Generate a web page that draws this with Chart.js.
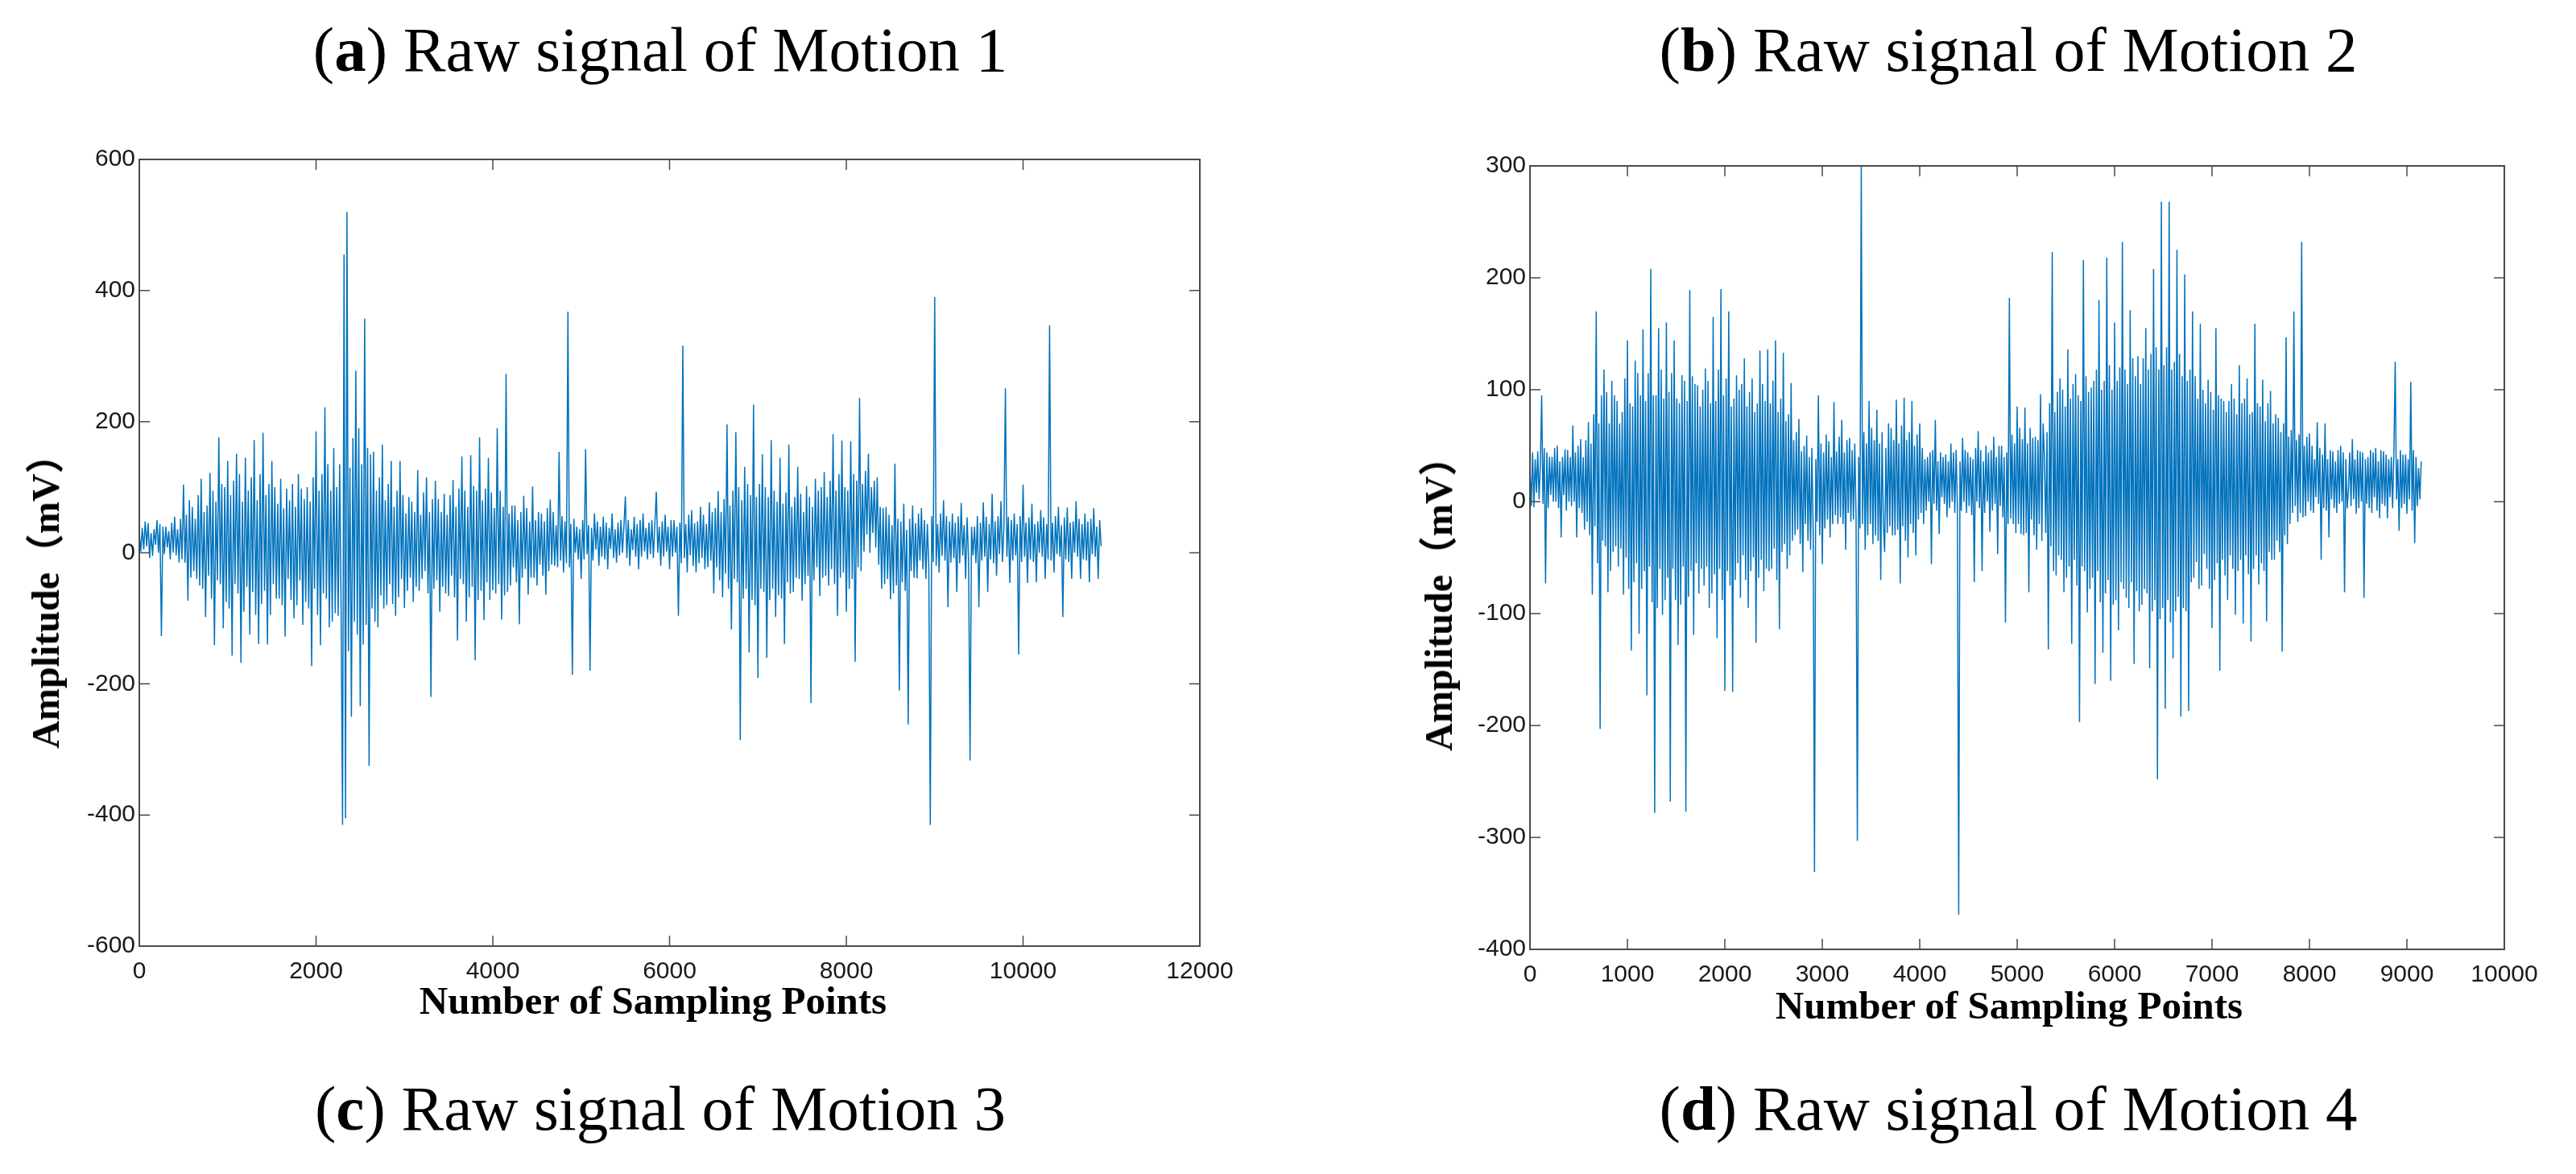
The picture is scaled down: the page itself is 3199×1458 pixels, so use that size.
<!DOCTYPE html>
<html>
<head>
<meta charset="utf-8">
<title>Raw signal of Motion</title>
<script src="https://cdn.jsdelivr.net/npm/chart.js@4.4.1/dist/chart.umd.min.js"></script>
<style>
    html, body { margin: 0; padding: 0; background: #fff; }
    #page { position: relative; width: 3199px; height: 1458px; overflow: hidden; background: #fff; }
    canvas { position: absolute; top: 0; }
    .caption {
        position: absolute; font-family: "Liberation Serif", "Times New Roman", serif;
        font-size: 79px; line-height: 1; white-space: nowrap; color: #000;
        transform: translateX(-50%);
    }
    .xlab {
        position: absolute; font-family: "Liberation Serif", "Times New Roman", serif;
        font-weight: bold; font-size: 49px; line-height: 1; white-space: nowrap; color: #000;
        transform: translateX(-50%);
    }
    .ylab {
        position: absolute; font-family: "Liberation Serif", "Times New Roman", "Noto Sans CJK SC", serif;
        font-weight: bold; font-size: 48px; line-height: 1; white-space: nowrap; color: #000;
        transform: translate(-50%, -50%) rotate(-90deg);
    }
</style>
</head>
<body>
<div id="page">
    <canvas id="chartMotion1" width="1600" height="1300" style="left:0;width:1600px;height:1300px"></canvas>
    <canvas id="chartMotion2" width="1599" height="1300" style="left:1600px;width:1599px;height:1300px"></canvas>

    <div class="caption" style="left:820px;top:22px">(<b>a</b>) Raw signal of Motion 1</div>
    <div class="caption" style="left:2494px;top:22px">(<b>b</b>) Raw signal of Motion 2</div>
    <div class="caption" style="left:820px;top:1337px">(<b>c</b>) Raw signal of Motion 3</div>
    <div class="caption" style="left:2494px;top:1337px">(<b>d</b>) Raw signal of Motion 4</div>

    <div class="xlab" style="left:811px;top:1218px">Number of Sampling Points</div>
    <div class="xlab" style="left:2495px;top:1224px">Number of Sampling Points</div>
    <div class="ylab" style="left:57px;top:735px">Amplitude（mV）</div>
    <div class="ylab" style="left:1787px;top:738px">Amplitude（mV）</div>
</div>

<script>
// Motion 1: readings every 50/3 samples (peak, then two core swings)
const motion1Step = 50 / 3;
const motion1Amplitude = [
    30,2,38, 5,48,10, 45,-8,30, -5,36,12, 50,0,44, -127,40,-2, 40,8,33, -10,46,0, 55,-4,36, -15,52,-10,
    104,-15,58, -73,80,-38, 70,-28,52, -40,88,-50, 113,-55,62, -98,72,-35, 122,-70,95, -141,78,-42, 176,-48,105, -115,100,-75,
    140,-85,88, -157,110,-48, 151,-62,120, -168,78,-90, 145,-52,95, -125,115,-60, 172,-95,80, -139,120,-78, 183,-58,88, -140,105,-95,
    140,-48,100, -70,75,-70, 113,-80,68, -128,98,-40, 80,-72,105, -100,70,-80, 120,-42,98, -110,82,-75, 100,-85,78, -173,115,-55,
    185,-95,95, -141,120,-62, 222,-70,135, -114,95,-105, 160,-92,100, -96,135,-85, -415,455,-405, 520,-150,130, -250,175,-105, 278,-125,190,
    -234,135,-140, 357,-110,160, -325,150,-85, 154,-105,95, -114,115,-65, 165,-85,80, -80,105,-48, 140,-78,70, -96,95,-68, 140,-40,88,
    -84,60,-58, 85,-38,78, -75,62,-52, 126,-58,58, -40,92,-28, 115,-62,62, -220,82,-55, 110,-42,82, -90,62,-52, 90,-62,58,
    -66,88,-35, 111,-68,70, -134,98,-40, 147,-48,95, -105,70,-68, 149,-52,102, -164,95,-72, 176,-58,80, -103,98,-45, 145,-72,92,
    -57,68,-62, 190,-48,95, -102,70,-65, 273,-60,60, -50,72,-22, 72,-45,50, -109,62,-38, 87,-25,68, -64,48,-38, 101,-38,50,
    -50,62,-18, 60,-35,48, -64,68,-28, 81,-18,62, -20,42,-22, 154,-12,56, -30,48,-16, 368,-22,44, -186,52,0, 40,-10,36,
    -40,50,-10, 158,-2,42, -180,38,-12, 60,5,48, -20,40,-6, 55,-10,46, -25,38,6, 60,-8,36, -15,46,-4, 50,0,40,
    86,-8,50, -20,36,4, 55,-6,44, -25,50,-6, 60,2,38, -10,46,-2, 50,-8,44, 93,0,40, -20,48,-6, 58,2,40,
    -25,50,-6, 50,0,40, -96,46,-16, 316,-8,44, -30,58,-4, 65,-20,45, -30,48,-16, 70,-8,58, -25,44,-22, 77,-12,62,
    -62,68,-22, 94,-42,62, -68,82,-32, 196,-55,72, -117,95,-40, 184,-45,100, -286,80,-70, 131,-55,105, -152,88,-72, 226,-80,85,
    -191,105,-55, 150,-60,100, -160,85,-72, 172,-55,95, -98,78,-65, 145,-70,75, -139,92,-45, 165,-62,70, -60,85,-38, 131,-40,90,
    -73,62,-48, 102,-35,85, -229,70,-42, 113,-22,95, -66,100,-38, 123,-35,85, -50,110,-25, 181,-48,95, -96,120,-38, 171,-30,100,
    -90,95,-55, 170,-40,120, -166,110,-22, 236,-28,105, 2,125,28, 151,0,100, 30,110,8, 115,-18,70, -55,68,-48, 70,-40,58,
    -71,42,-62, 136,-50,52, -210,48,-45, 75,-58,35, -262,52,-28, 72,-38,45, -39,60,-12, 68,-25,50, -40,44,-20, -415,56,-14,
    390,-20,44, -30,60,-5, 80,-12,56, -83,48,-15, 60,-8,46, -60,56,-16, 76,-4,42, -40,54,-10, -317,40,-4, 40,-16,56,
    -83,46,-12, 77,-6,55, -60,44,-10, 90,-16,48, -35,56,-2, 79,-14,40, 251,-6,55, -46,50,-12, 60,-4,44, -155,56,-14,
    104,-6,46, -46,54,-10, 75,-14,44, -45,48,0, 65,-6,54, -40,44,-10, 347,-12,46, -30,56,-2, 70,-6,42, -98,54,-10,
    69,-14,46, -40,48,0, 79,-6,52, -40,44,-10, 60,-12,48, -45,52,-2, 68,-6,40, -40,50,10
];
const motion1XTicks = [0, 2000, 4000, 6000, 8000, 10000, 12000];
const motion1YTicks = [-600, -400, -200, 0, 200, 400, 600];

// Motion 2: readings every 40/3 samples
const motion2Step = 40 / 3;
const motion2Amplitude = [
    30,-4,44, -5,38,8, 45,2,34, 95,-2,48, -73,44,-6, 40,6,40, 0,48,0, 50,-6,36, -32,40,6, 47,-8,46,
    0,40,-4, 68,0,44, -32,50,-6, 56,-10,40, -25,55,-18, 71,-30,52, -83,78,-22, 170,-55,70, -203,95,-35, 118,-40,98,
    -81,70,-62, 108,-45,95, -40,90,-58, 70,-42,80, -83,110,-50, 144,-78,88, -133,85,-72, 126,-55,115, -118,95,-78, 154,-62,90,
    -173,115,-58, 208,-90,95, -278,95,-95, 155,-60,118, -101,92,-88, 160,-68,98, -268,115,-60, 144,-88,92, -128,88,-92, 113,-58,108,
    -277,90,-85, 189,-62,112, -119,105,-55, 104,-82,85, -60,100,-75, 119,-58,108, -95,88,-82, 165,-65,90, -122,118,-60, 190,-88,95,
    -169,110,-62, 170,-75,85, -170,92,-70, 113,-55,100, -86,105,-48, 128,-70,85, -95,98,-62, 110,-50,80, -126,88,-68, 135,-52,105,
    -80,90,-60, 136,-62,88, -60,108,-42, 144,-70,80, -114,92,-45, 133,-38,72, -60,78,-48, 106,-35,55, -30,62,-25, 74,-38,45,
    -63,50,-20, 59,-35,40, -43,48,-28, -331,38,-18, 95,-30,52, -56,44,-24, 60,-16,54, -32,40,-20, 89,-12,45, -20,58,-14,
    73,-20,44, -43,55,-10, 57,-18,46, -16,52,-14, -303,40,-24, 300,-20,62, -43,52,-30, 90,-20,66, -38,55,-30, 82,-35,52,
    -70,62,-20, -45,48,-28, 70,-22,66, -30,55,-30, 91,-25,52, -73,68,-22, 93,-35,55, -50,62,-20, 90,-28,50, -48,60,-16,
    70,-10,48, -20,38,-8, 40,0,44, -56,46,-2, 73,-8,36, -29,44,4, 40,-2,42, -14,36,-6, 52,0,44, -10,46,-4,
    -369,36,-8, 57,0,46, -10,44,-4, 40,-12,38, -72,48,0, 63,-6,46, -62,36,-10, 50,0,44, -27,46,-8, 58,-2,40,
    -47,50,-4, 50,-14,40, -108,44,-20, 182,-15,60, -20,52,-28, 85,-20,66, -29,56,-30, 84,-28,52, -81,66,-16, 57,-30,58,
    -43,55,-20, 96,-35,70, 40,-28,62, -132,88,-40, 223,-62,80, -66,98,-48, 110,-52,100, -81,85,-68, 136,-58,92, -127,105,-52,
    114,-75,95, -197,90,-58, 216,-62,112, -99,98,-78, 102,-68,108, -163,118,-62, 180,-90,100, -135,108,-82, 218,-70,122, -160,100,-92,
    160,-88,108, -115,120,-72, 232,-78,118, -86,105,-95, 171,-72,128, -145,112,-80, 130,-98,105, -92,128,-78, 155,-82,118, -149,132,-98,
    208,-88,138, -248,118,-105, 268,-95,122, -185,138,-88, 268,-108,118, -140,125,-98, 225,-85,132, -192,112,-95, 203,-98,108, -187,118,-72,
    170,-68,112, -54,92,-78, 159,-75,100, -47,88,-60, 109,-78,98, -113,82,-70, 155,-55,95, -151,92,-52, 90,-66,80, -88,90,-48,
    105,-60,92, -101,78,-62, 122,-52,88, -109,92,-48, 110,-65,78, -125,80,-60, 159,-48,88, -74,85,-55, 109,-62,72, -107,88,-45,
    99,-52,70, -52,78,-35, 75,-45,62, -134,70,-30, 147,-38,58, -20,64,-10, 170,-4,55, -18,60,-10, 232,-14,50, -13,58,0,
    61,-8,50, -10,38,4, 71,-2,48, -52,42,-6, 70,-8,38, -32,46,2, 45,-6,36, -10,46,-2, 50,0,44, -81,38,-6,
    10,44,-4, 56,2,38, -11,46,-6, 45,0,44, -86,38,-2, 40,-6,46, -10,44,4, 48,-8,36, -15,46,-2, 45,-4,42,
    -15,38,4, 40,-6,44, 125,2,38, -26,46,-6, 42,-2,42, -11,38,2, 107,-8,46, -37,40,-4, 30,2,36
];
const motion2XTicks = [0, 1000, 2000, 3000, 4000, 5000, 6000, 7000, 8000, 9000, 10000];
const motion2YTicks = [-400, -300, -200, -100, 0, 100, 200, 300];

const lineColor = '#0072bd';
const axisColor = '#4a4a4a';

// рамка как в MATLAB: все четыре стороны и засечки внутрь
const boxPlugin = {
    id: 'matlabBox',
    afterDraw(chart) {
        const { ctx, chartArea: a, scales: { x, y } } = chart;
        const len = 13;
        ctx.save();
        ctx.strokeStyle = axisColor;
        ctx.lineWidth = 1.5;
        ctx.beginPath();
        x.ticks.forEach(t => {
            const px = x.getPixelForValue(t.value);
            ctx.moveTo(px, a.bottom); ctx.lineTo(px, a.bottom - len);
            ctx.moveTo(px, a.top); ctx.lineTo(px, a.top + len);
        });
        y.ticks.forEach(t => {
            const py = y.getPixelForValue(t.value);
            ctx.moveTo(a.left, py); ctx.lineTo(a.left + len, py);
            ctx.moveTo(a.right, py); ctx.lineTo(a.right - len, py);
        });
        ctx.stroke();
        ctx.lineWidth = 2;
        ctx.strokeRect(a.left, a.top, a.right - a.left, a.bottom - a.top);
        ctx.restore();
    }
};

function buildPoints(values, step) {
    return values.map((v, i) => ({ x: i * step, y: v }));
}

function renderSignalChart(canvasId, values, step, xTicks, yTicks, box) {
    const ctx = document.getElementById(canvasId).getContext('2d');
    const tickFont = { family: '"Liberation Sans", Arial, sans-serif', size: 30 };

    return new Chart(ctx, {
        type: 'line',
        data: {
            datasets: [{
                data: buildPoints(values, step),
                borderColor: lineColor,
                borderWidth: 1.5,
                pointRadius: 0,
                tension: 0,
                fill: false
            }]
        },
        options: {
            responsive: false,
            animation: false,
            devicePixelRatio: 1,
            parsing: false,
            layout: { padding: { top: box.top, right: box.right, left: 0, bottom: 0 } },
            plugins: {
                legend: { display: false },
                tooltip: { enabled: false }
            },
            scales: {
                x: {
                    type: 'linear',
                    min: xTicks[0],
                    max: xTicks[xTicks.length - 1],
                    afterBuildTicks: scale => { scale.ticks = xTicks.map(v => ({ value: v })); },
                    afterFit: scale => { scale.height = box.xHeight; },
                    grid: { display: false, drawTicks: false },
                    border: { display: false },
                    ticks: {
                        font: tickFont, color: '#1a1a1a', padding: 14,
                        maxRotation: 0, autoSkip: false,
                        callback: v => String(v)
                    }
                },
                y: {
                    type: 'linear',
                    min: yTicks[0],
                    max: yTicks[yTicks.length - 1],
                    afterBuildTicks: scale => { scale.ticks = yTicks.map(v => ({ value: v })); },
                    afterFit: scale => { scale.width = box.yWidth; },
                    grid: { display: false, drawTicks: false },
                    border: { display: false },
                    ticks: {
                        font: tickFont, color: '#1a1a1a', padding: 5,
                        autoSkip: false,
                        callback: v => String(v)
                    }
                }
            }
        },
        plugins: [boxPlugin]
    });
}

renderSignalChart('chartMotion1', motion1Amplitude, motion1Step, motion1XTicks, motion1YTicks,
    { top: 198, right: 110, yWidth: 173, xHeight: 125 });
renderSignalChart('chartMotion2', motion2Amplitude, motion2Step, motion2XTicks, motion2YTicks,
    { top: 206, right: 89, yWidth: 300, xHeight: 121 });
</script>
</body>
</html>
